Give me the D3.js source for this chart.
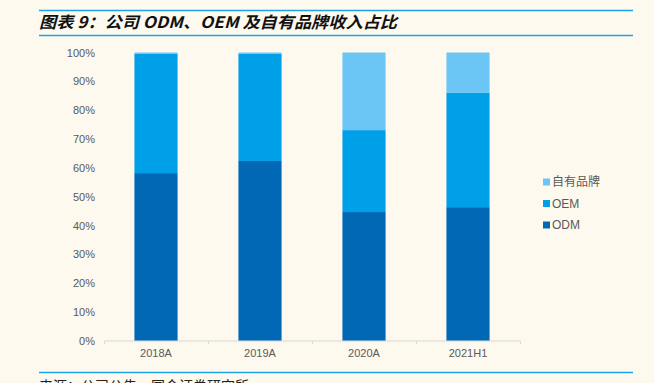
<!DOCTYPE html>
<html><head><meta charset="utf-8">
<script src="https://cdn.jsdelivr.net/npm/d3@7"></script>
<style>
html,body{margin:0;padding:0;background:#FDF9EF;}
svg{display:block;}
</style></head>
<body>
<svg id="c" width="654" height="383"></svg>
<script>
const categories = ["2018A", "2019A", "2020A", "2021H1"];
const seriesNames = ["ODM", "OEM", "自有品牌"];
const odm = [58.2, 62.4, 44.7, 46.4];
const oem = [41.3, 37.1, 28.4, 39.6];
const own = [0.5, 0.5, 26.9, 14.0];
const yTicks = [0, 10, 20, 30, 40, 50, 60, 70, 80, 90, 100];
const colors = ["#0068B5", "#00A0E9", "#6BC5F5"];
const titleText = "图表 9：公司 ODM、OEM 及自有品牌收入占比";
const sourceText = "来源：公司公告，国金证券研究所";

const svg = d3.select("#c");
const font = "Arial, 'Liberation Sans', 'Noto Sans CJK SC', sans-serif";

// header lines and title
svg.append("line").attr("x1", 39).attr("x2", 633).attr("y1", 10.5).attr("y2", 10.5)
  .attr("stroke", "#1AA3E8").attr("stroke-width", 1.5);
svg.append("line").attr("x1", 39).attr("x2", 633).attr("y1", 35.5).attr("y2", 35.5)
  .attr("stroke", "#1AA3E8").attr("stroke-width", 1.5);
svg.append("text").attr("x", 39).attr("y", 28)
  .attr("font-family", "'Noto Sans CJK SC', sans-serif")
  .attr("font-size", 16).attr("font-weight", "bold").attr("font-style", "italic")
  .attr("fill", "#111").attr("textLength", 358).attr("lengthAdjust", "spacingAndGlyphs")
  .text(titleText);

// footer
svg.append("line").attr("x1", 39).attr("x2", 633).attr("y1", 372.5).attr("y2", 372.5)
  .attr("stroke", "#1AA3E8").attr("stroke-width", 1.5);
svg.append("text").attr("x", 39).attr("y", 391)
  .attr("font-family", "'Noto Sans CJK SC', sans-serif")
  .attr("font-size", 14).attr("fill", "#222").text(sourceText);

const x = d3.scaleBand().domain(categories).range([104, 520]).paddingInner(0.585).paddingOuter(0.2925);
const y = d3.scaleLinear().domain([0, 100]).range([341, 52.5]);

const data = categories.map((c, i) => ({cat: c, ODM: odm[i], OEM: oem[i], "自有品牌": own[i]}));
const stack = d3.stack().keys(seriesNames)(data);

// y axis labels
const yAxis = d3.axisLeft(y).tickValues(yTicks).tickFormat(d => d + "%").tickSize(0).tickPadding(0);
const gy = svg.append("g").attr("transform", "translate(95,0)").call(yAxis);
gy.select(".domain").remove();
gy.selectAll("text").attr("font-family", font).attr("font-size", 11).attr("fill", "#595959");

// bars
svg.append("g").selectAll("g").data(stack).join("g")
  .attr("fill", (d, i) => colors[i])
  .selectAll("rect").data(d => d).join("rect")
  .attr("x", d => x(d.data.cat))
  .attr("width", x.bandwidth())
  .attr("y", d => y(d[1]))
  .attr("height", d => y(d[0]) - y(d[1]));

// x axis
const xAxisScale = d3.scaleBand().domain(categories).range([104, 520]);
const xAxis = d3.axisBottom(xAxisScale).tickSize(0).tickPadding(8);
const gx = svg.append("g").attr("transform", "translate(0,341)").call(xAxis);
gx.select(".domain").attr("stroke", "#D9D9D9").attr("d", "M104.5,0H520.5");
gx.selectAll("text").attr("font-family", font).attr("font-size", 11).attr("fill", "#595959");
// boundary ticks
const bounds = [104, 208, 312, 416, 520];
svg.append("g").selectAll("line").data(bounds).join("line")
  .attr("x1", d => d + 0.5).attr("x2", d => d + 0.5).attr("y1", 341).attr("y2", 344)
  .attr("stroke", "#D9D9D9");

// legend
const legendItems = seriesNames.slice().reverse();
const lg = svg.append("g").selectAll("g").data(legendItems).join("g")
  .attr("transform", (d, i) => `translate(543,${182 + i * 21.5})`);
lg.append("rect").attr("x", 0).attr("y", -3.5).attr("width", 7).attr("height", 7)
  .attr("fill", d => colors[seriesNames.indexOf(d)]);
lg.append("text").attr("x", 9).attr("y", 0).attr("dy", "0.35em")
  .attr("font-family", font).attr("font-size", 12).attr("fill", "#595959").text(d => d);
</script>
</body></html>
